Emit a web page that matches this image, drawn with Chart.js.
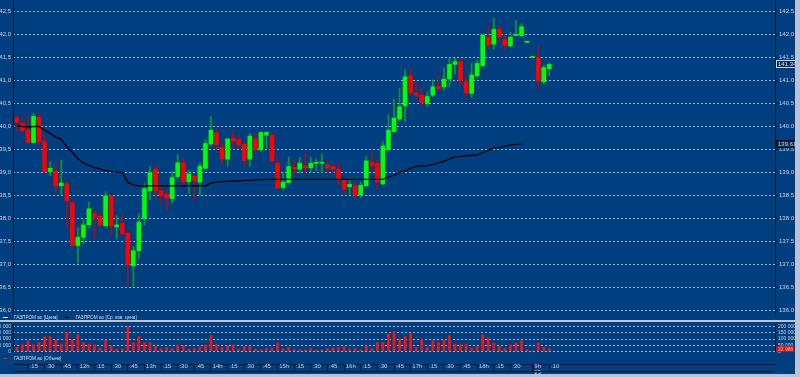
<!DOCTYPE html>
<html>
<head>
<meta charset="utf-8">
<script src="https://cdn.jsdelivr.net/npm/chart.js@4"></script>
<style>
    body { margin: 0; width: 800px; height: 377px; overflow: hidden; position: relative; background: #003f7f; font-family: "Liberation Sans", Arial, sans-serif; }
    canvas { position: absolute; left: 0; }
    .legend { position: absolute; left: 3px; font-size: 6px; line-height: 7px; color: #d6dde9; white-space: nowrap; transform: scaleX(0.78); transform-origin: 0 0; }
    .legend i { display: inline-block; width: 6px; height: 1px; vertical-align: middle; margin-right: 8px; }
    .legend span { margin-right: 9px; }
    #sep { position: absolute; left: 0; top: 320px; width: 800px; height: 2px; background: #b9c3d3; }
    #edgeR { position: absolute; left: 795px; top: 0; width: 5px; height: 377px; background: #b9c3d3; }
    #edgeB { position: absolute; left: 0; top: 374px; width: 800px; height: 3px; background: #b9c3d3; }
</style>
</head>
<body>
<canvas id="mainChart" width="800" height="321" style="top:0"></canvas>
<div class="legend" style="top:314px"><span><i style="background:#e8eef8"></i>ГАЗПРОМ ао [Цена]</span><span><i style="background:#000"></i>ГАЗПРОМ ао [Ср. взв. цена]</span></div>
<div id="sep"></div>
<canvas id="volumeChart" width="800" height="34" style="top:322px"></canvas>
<div class="legend" style="top:355px"><span><i style="background:#ff2020"></i>ГАЗПРОМ ао [Объем]</span></div>
<canvas id="timeChart" width="800" height="15" style="top:362px"></canvas>
<div id="edgeR"></div>
<div id="edgeB"></div>
<script>
// 5-minute bars: one session on day 1, the first bars of day 2
var times = [];
function addSession(hour, minute, count) {
    for (var k = 0; k < count; k++) {
        var m = hour * 60 + minute + k * 5;
        times.push(Math.floor(m / 60) + ':' + String(m % 60).padStart(2, '0'));
    }
}
addSession(11, 5, 93);
addSession(9, 55, 4);
const dayStart = 93;
const dayLabel = '25';

const opens = [
    140.18, 140.06, 139.91, 139.64, 140.19, 139.66, 139.01, 139.02, 138.70, 138.75,
    138.33, 137.40, 137.58, 137.85, 138.10, 138.04, 137.83, 138.48, 137.81, 137.88,
    137.67, 136.96, 137.29, 137.99, 138.59, 139.06, 138.59, 138.52, 138.42, 138.90,
    139.20, 138.79, 138.91, 138.78, 139.08, 139.61, 139.85, 139.54, 139.28, 139.74,
    139.70, 139.60, 139.28, 139.72, 139.49, 139.80, 139.80, 139.19, 138.66, 138.77,
    139.10, 139.06, 139.13, 139.09, 139.19, 139.19, 139.15, 139.12, 139.06, 138.83,
    138.68, 138.70, 138.50, 138.70, 139.21, 139.19, 138.74, 139.49, 139.88, 140.15,
    140.44, 141.09, 140.72, 140.67, 140.49, 140.67, 140.86, 140.85, 141.02, 141.34,
    141.40, 140.96, 140.71, 141.09, 141.31, 141.93, 141.78, 142.10, 141.88, 141.74,
    141.97, 141.96, 141.82, 141.49, 141.49, 140.96, 141.24
];
const highs = [
    140.22, 140.18, 140.20, 140.28, 140.28, 139.80, 139.22, 139.20, 139.26, 138.78,
    138.39, 137.79, 137.96, 138.34, 138.17, 138.09, 138.57, 138.50, 138.05, 138.10,
    137.70, 137.38, 138.10, 138.75, 139.12, 139.15, 138.75, 138.61, 139.01, 139.37,
    139.30, 139.04, 138.93, 139.19, 139.70, 140.20, 139.98, 139.66, 139.72, 139.91,
    139.82, 139.65, 139.84, 139.84, 139.88, 139.87, 139.83, 139.30, 138.99, 139.33,
    139.26, 139.32, 139.41, 139.32, 139.28, 139.39, 139.22, 139.16, 139.19, 138.86,
    138.86, 138.79, 138.78, 139.34, 139.42, 139.27, 139.67, 140.24, 140.58, 140.82,
    141.22, 141.28, 140.96, 140.82, 140.75, 141.00, 141.09, 141.27, 141.48, 141.47,
    141.47, 141.07, 141.36, 141.43, 142.00, 142.17, 142.34, 142.18, 141.98, 142.04,
    142.30, 142.22, 141.82, 141.49, 141.74, 141.32, 141.38
];
const lows = [
    139.89, 139.86, 139.63, 139.62, 139.59, 138.98, 138.92, 138.54, 138.50, 137.78,
    137.38, 137.02, 137.45, 137.78, 137.52, 137.82, 137.80, 137.63, 137.56, 137.63,
    136.53, 136.52, 137.12, 137.85, 138.40, 138.41, 138.32, 138.17, 138.32, 138.86,
    138.72, 138.54, 138.38, 138.50, 139.06, 139.57, 139.42, 139.17, 139.13, 139.55,
    139.52, 139.13, 139.12, 139.41, 139.44, 139.52, 139.22, 138.61, 138.61, 138.73,
    138.90, 138.98, 138.97, 139.00, 139.03, 138.99, 138.97, 138.98, 138.72, 138.50,
    138.52, 138.41, 138.45, 138.68, 139.00, 138.62, 138.72, 139.45, 139.85, 140.11,
    140.09, 140.67, 140.60, 140.42, 140.42, 140.63, 140.78, 140.78, 140.85, 141.13,
    140.89, 140.60, 140.62, 141.04, 141.28, 141.67, 141.67, 141.83, 141.65, 141.72,
    141.96, 141.95, 141.82, 141.49, 140.80, 140.91, 141.09
];
const closes = [
    140.08, 139.90, 139.64, 140.21, 139.65, 139.01, 139.08, 138.70, 138.76, 138.37,
    137.40, 137.58, 137.85, 138.20, 138.02, 137.85, 138.48, 137.83, 137.85, 137.66,
    136.98, 137.29, 137.91, 138.64, 138.99, 138.59, 138.49, 138.43, 138.88, 139.20,
    138.79, 138.96, 138.81, 139.13, 139.62, 139.91, 139.59, 139.28, 139.72, 139.67,
    139.59, 139.25, 139.78, 139.49, 139.86, 139.86, 139.24, 138.65, 138.78, 139.12,
    139.06, 139.19, 139.09, 139.19, 139.19, 139.19, 139.09, 139.06, 138.84, 138.62,
    138.73, 138.50, 138.71, 139.24, 139.13, 138.79, 139.57, 139.91, 140.17, 140.42,
    141.07, 140.72, 140.67, 140.51, 140.64, 140.85, 140.81, 141.02, 141.34, 141.40,
    140.98, 140.72, 141.11, 141.36, 141.98, 141.76, 142.10, 141.94, 141.75, 141.93,
    141.98, 142.16, 141.82, 141.49, 140.98, 141.27, 141.34
];
// volume-weighted average price (ends with day 1)
const avgPrice = [
    140.00, 139.99, 139.98, 139.99, 139.99, 139.91, 139.84, 139.76, 139.71, 139.55,
    139.43, 139.29, 139.20, 139.14, 139.10, 139.07, 139.03, 139.01, 139.00, 138.99,
    138.78, 138.72, 138.70, 138.70, 138.70, 138.70, 138.70, 138.70, 138.70, 138.70,
    138.70, 138.70, 138.70, 138.70, 138.70, 138.76, 138.78, 138.79, 138.80, 138.80,
    138.81, 138.82, 138.82, 138.83, 138.83, 138.84, 138.84, 138.84, 138.84, 138.84,
    138.84, 138.84, 138.84, 138.84, 138.84, 138.84, 138.84, 138.84, 138.84, 138.84,
    138.84, 138.84, 138.84, 138.84, 138.84, 138.84, 138.84, 138.89, 138.93, 138.99,
    139.02, 139.08, 139.12, 139.13, 139.14, 139.16, 139.20, 139.23, 139.28, 139.33,
    139.34, 139.35, 139.36, 139.37, 139.42, 139.47, 139.52, 139.53, 139.56, 139.59,
    139.60, 139.61
];
const volumes = [
    32000, 53000, 85000, 53000, 72000, 117000, 117000, 91000, 59000, 152000,
    93000, 133000, 72000, 59000, 53000, 27000, 91000, 45000, 19000, 24000,
    197000, 69000, 120000, 69000, 72000, 40000, 24000, 32000, 24000, 51000,
    45000, 19000, 24000, 37000, 51000, 125000, 56000, 32000, 45000, 51000,
    19000, 37000, 37000, 19000, 13000, 24000, 27000, 67000, 24000, 32000,
    16000, 16000, 13000, 24000, 11000, 13000, 24000, 27000, 32000, 37000,
    19000, 24000, 13000, 45000, 24000, 72000, 72000, 139000, 160000, 99000,
    120000, 144000, 32000, 99000, 32000, 85000, 72000, 93000, 125000, 59000,
    53000, 59000, 27000, 40000, 131000, 107000, 67000, 40000, 24000, 53000,
    67000, 85000, 13000, 8000, 67000, 32000, 22986
];
const priceTicks = { min: 135.935, max: 142.74, step: 0.5 };
const volumeTicks = { min: 0, max: 220000, step: 50000 };
// visible slots on the time axis (free space on the right)
const xRange = { min: -0.7, max: 136.7 };

const tickFont = { family: 'Liberation Sans', size: 6, lineHeight: 1 };
const tickColor = '#c9d3e3';
const gridColor = 'rgba(200,212,232,0.8)';
const axisColor = '#05152e';

function fixedWidth(w) {
    return function (scale) {
        scale.width = w;
        scale.paddingTop = 0;
        scale.paddingBottom = 0;
    };
}

function priceAxis(position, fmt) {
    var right = position === 'right';
    return {
        type: 'linear',
        position: position,
        min: priceTicks.min,
        max: priceTicks.max,
        afterFit: fixedWidth(right ? 25 : 13),
        afterBuildTicks: function (scale) {
            var ticks = [];
            for (var v = 136; v <= priceTicks.max; v += priceTicks.step) ticks.push({ value: v });
            scale.ticks = ticks;
        },
        border: { display: true, color: axisColor, width: 1, dash: [2, 2] },
        grid: {
            drawOnChartArea: right,
            color: gridColor,
            tickColor: axisColor,
            tickLength: right ? 3 : 2
        },
        ticks: {
            font: tickFont,
            color: tickColor,
            padding: right ? 1 : 0,
            autoSkip: false,
            callback: function (v) { return fmt(v); }
        }
    };
}

const valueTags = {
    id: 'valueTags',
    afterDraw(chart, args, opts) {
        const ctx = chart.ctx;
        const ys = chart.scales.y;
        const x = chart.chartArea.right + 1;
        ctx.save();
        ctx.font = '6px "Liberation Sans", Arial';
        ctx.textBaseline = 'middle';
        opts.tags.forEach(function (t) {
            const y = Math.round(ys.getPixelForValue(t.value));
            ctx.fillStyle = t.fill;
            ctx.fillRect(x, y - 3.5, t.width, 7);
            ctx.strokeStyle = t.border;
            ctx.lineWidth = 1;
            ctx.strokeRect(x + 0.5, y - 3.5, t.width - 1, 7);
            ctx.fillStyle = t.color;
            ctx.fillText(t.text, x + 2, y + 0.5);
        });
        ctx.restore();
    }
};

var bars = times.map(function (t, i) { return i; });
var bodyColors = bars.map(i => closes[i] >= opens[i] ? '#00ff00' : '#ff0000');
var wickColors = bars.map(i => closes[i] >= opens[i] ? '#0b9a2a' : '#a01020');

window.chartInstances = {};

window.chartInstances['mainChart'] = new Chart(document.getElementById('mainChart').getContext('2d'), {
    data: {
        datasets: [{
            type: 'line',
            label: 'ГАЗПРОМ ао [Ср. взв. цена]',
            data: avgPrice.map((v, i) => ({ x: i, y: v })),
            borderColor: '#000000',
            borderWidth: 1.3,
            pointRadius: 0,
            tension: 0,
            order: 1
        }, {
            type: 'bar',
            label: 'body',
            data: bars.map(i => ({ x: i, y: [opens[i], closes[i]] })),
            backgroundColor: bodyColors,
            barThickness: 4,
            minBarLength: 1,
            grouped: false,
            order: 2
        }, {
            type: 'bar',
            label: 'wick',
            data: bars.map(i => ({ x: i, y: [lows[i], highs[i]] })),
            backgroundColor: wickColors,
            barThickness: 1,
            minBarLength: 1,
            grouped: false,
            order: 3
        }]
    },
    options: {
        responsive: false,
        animation: false,
        layout: { padding: { top: 0, bottom: 8, left: 0, right: 0 } },
        scales: {
            x: { type: 'linear', display: false, offset: false, min: xRange.min, max: xRange.max },
            y: priceAxis('right', v => v.toFixed(1)),
            yl: priceAxis('left', v => v.toFixed(1).replace('.', ','))
        },
        plugins: {
            legend: { display: false },
            tooltip: { enabled: false },
            valueTags: {
                tags: [
                    { value: closes[closes.length - 1], text: closes[closes.length - 1].toFixed(2), width: 22, fill: '#062a5c', border: '#c9d3e3', color: '#e6ecf5' },
                    { value: avgPrice[avgPrice.length - 1], text: avgPrice[avgPrice.length - 1].toFixed(2), width: 18, fill: '#062a5c', border: '#000000', color: '#c9d3e3' }
                ]
            }
        }
    },
    plugins: [valueTags]
});

function volumeAxis(position) {
    var right = position === 'right';
    return {
        type: 'linear',
        position: position,
        min: volumeTicks.min,
        max: volumeTicks.max,
        afterFit: fixedWidth(right ? 25 : 13),
        afterBuildTicks: function (scale) {
            var ticks = [];
            for (var v = 0; v <= 200000; v += volumeTicks.step) ticks.push({ value: v });
            scale.ticks = ticks;
        },
        border: { display: true, color: axisColor, dash: [2, 2] },
        grid: {
            drawOnChartArea: right,
            color: gridColor,
            tickColor: axisColor,
            tickLength: 2
        },
        ticks: {
            font: { family: 'Liberation Sans', size: 5, lineHeight: 1 },
            color: tickColor,
            padding: right ? 1 : 0,
            autoSkip: false,
            callback: v => v.toLocaleString('ru-RU').replace(/\s/g, ' ')
        }
    };
}

const volumeTag = {
    id: 'volumeTag',
    afterDraw(chart) {
        const ctx = chart.ctx;
        const v = volumes[volumes.length - 1];
        const y = Math.round(chart.scales.y.getPixelForValue(v));
        const x = chart.chartArea.right + 1;
        ctx.save();
        ctx.fillStyle = '#d01010';
        ctx.fillRect(x, y - 3, 18, 6);
        ctx.fillStyle = '#f0c8c8';
        ctx.font = '5px "Liberation Sans", Arial';
        ctx.textBaseline = 'middle';
        ctx.fillText(v.toLocaleString('ru-RU').replace(/\s/g, ' '), x + 2, y + 0.5);
        ctx.restore();
    }
};

window.chartInstances['volumeChart'] = new Chart(document.getElementById('volumeChart').getContext('2d'), {
    type: 'bar',
    data: {
        datasets: [{
            label: 'ГАЗПРОМ ао [Объем]',
            data: bars.map(i => ({ x: i, y: volumes[i] })),
            backgroundColor: '#ff1010',
            barThickness: 2
        }]
    },
    options: {
        responsive: false,
        animation: false,
        layout: { padding: { top: 2, bottom: 4.5, left: 0, right: 0 } },
        scales: {
            x: { type: 'linear', display: false, offset: false, min: xRange.min, max: xRange.max },
            y: volumeAxis('right'),
            yl: volumeAxis('left')
        },
        plugins: { legend: { display: false }, tooltip: { enabled: false } }
    },
    plugins: [volumeTag]
});

// time axis labels: quarter hours, day start with date, and the last bar
function timeLabel(i) {
    var parts = times[i].split(':');
    var h = parts[0], m = parts[1];
    if (i === dayStart) return [' ' + h + 'h', ' ' + dayLabel];
    if (i === times.length - 1) return ' :' + m;
    if (Math.abs(i - dayStart) < 3) return null;
    if (m === '00') return ' ' + h + 'h';
    if (m === '15' || m === '30' || m === '45') return ' :' + m;
    return null;
}

const timeLines = {
    id: 'timeLines',
    afterDraw(chart) {
        const ctx = chart.ctx;
        const xs = chart.scales.x;
        ctx.save();
        ctx.strokeStyle = axisColor;
        ctx.lineWidth = 1;
        ctx.beginPath();
        ctx.moveTo(xs.left, xs.top + 7.5);
        ctx.lineTo(xs.right, xs.top + 7.5);
        var xd = Math.round(xs.getPixelForValue(dayStart)) + 0.5;
        ctx.moveTo(xd, xs.top);
        ctx.lineTo(xd, chart.height);
        ctx.stroke();
        ctx.restore();
    }
};

window.chartInstances['timeChart'] = new Chart(document.getElementById('timeChart').getContext('2d'), {
    type: 'line',
    data: { datasets: [] },
    options: {
        responsive: false,
        animation: false,
        layout: { padding: { left: 13, right: 25, top: 0, bottom: 0 } },
        scales: {
            x: {
                type: 'linear',
                position: 'bottom',
                offset: false,
                min: xRange.min,
                max: xRange.max,
                afterBuildTicks: function (scale) {
                    var ticks = [];
                    times.forEach(function (t, i) {
                        if (timeLabel(i)) ticks.push({ value: i });
                    });
                    scale.ticks = ticks;
                },
                afterFit: function (scale) {
                    scale.height = 13;
                    scale.paddingLeft = 0;
                    scale.paddingRight = 0;
                },
                border: { display: true, color: axisColor },
                grid: { drawOnChartArea: false, color: axisColor, tickLength: 7 },
                ticks: {
                    font: { family: 'Liberation Sans', size: 6, lineHeight: 0.9 },
                    color: tickColor,
                    align: 'start',
                    maxRotation: 0,
                    autoSkip: false,
                    padding: -7,
                    callback: function (v) { return timeLabel(v); }
                }
            },
            y: { display: false }
        },
        plugins: { legend: { display: false }, tooltip: { enabled: false } }
    },
    plugins: [timeLines]
});
</script>
</body>
</html>
